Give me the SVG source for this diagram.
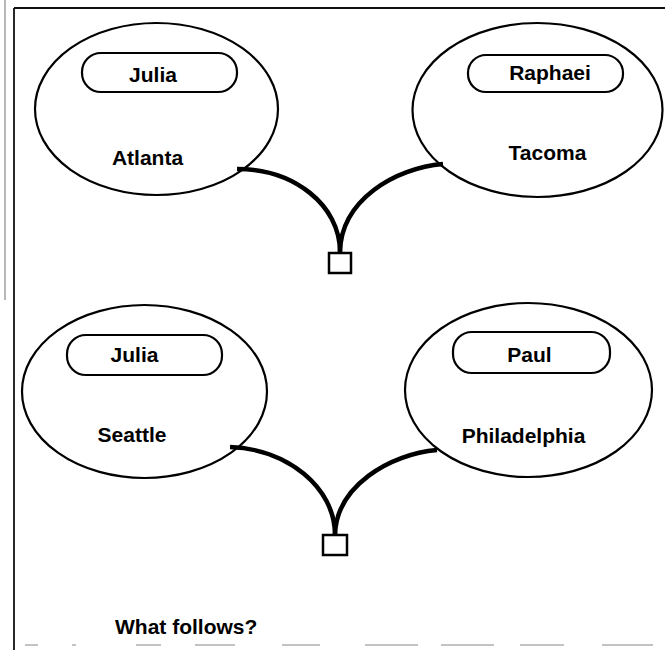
<svg xmlns="http://www.w3.org/2000/svg" width="665" height="650" viewBox="0 0 665 650">
<style>
.frame{stroke:#111;stroke-width:1.8;fill:none}
.scan{stroke:#888;stroke-width:1.2;fill:none}
.ell{fill:none;stroke:#000;stroke-width:2.2}
.pill{fill:#fff;stroke:#000;stroke-width:2.2}
.lbl{font-family:"Liberation Sans",Arial,sans-serif;font-weight:bold;font-size:21px;fill:#000;text-anchor:middle}
.link{fill:none;stroke:#000;stroke-width:4.5;stroke-linecap:butt}
.sq{fill:#fff;stroke:#000;stroke-width:2.5}
</style>
<rect width="665" height="650" fill="#fff"/>
<g id="frame">
<line class="frame" x1="14" y1="8" x2="14" y2="650"/>
<line class="frame" x1="14" y1="8" x2="665" y2="8"/>
<line class="scan" x1="5" y1="0" x2="5" y2="300"/>
<path class="scan" d="M25,645H38M72,645H76M136,645H161M195,645H235M282,645H320M365,645H418M441,645H494M520,645H564M602,645H653"/>
</g>
<g id="connectors">
<path class="link" d="M237,169 C294,169 340,205 340,252"/>
<path class="link" d="M443,164 C395,168 341,200 340,252"/>
<path class="link" d="M230,447 C287,449 335,487 335,535"/>
<path class="link" d="M437,450 C390,454 336,486 335,535"/>
</g>
<g id="node-julia-atlanta">
<ellipse class="ell" cx="156.5" cy="109" rx="121.5" ry="86"/>
<rect class="pill" x="82" y="53" width="155" height="39" rx="19" ry="19"/>
<text class="lbl" x="153" y="82">Julia</text>
<text class="lbl" x="147.5" y="165">Atlanta</text>
</g>
<g id="node-raphael-tacoma">
<ellipse class="ell" cx="537.5" cy="110" rx="125" ry="87"/>
<rect class="pill" x="468" y="55" width="155" height="37" rx="18" ry="18"/>
<text class="lbl" x="550" y="80">Raphaei</text>
<text class="lbl" x="547.5" y="160">Tacoma</text>
</g>
<g id="join-top">
<rect class="sq" x="329" y="253" width="22" height="20"/>
</g>
<g id="node-julia-seattle">
<ellipse class="ell" cx="144.5" cy="391.5" rx="122.5" ry="86.5"/>
<rect class="pill" x="67" y="335" width="155" height="40" rx="19" ry="19"/>
<text class="lbl" x="134.5" y="362">Julia</text>
<text class="lbl" x="132" y="442">Seattle</text>
</g>
<g id="node-paul-philadelphia">
<ellipse class="ell" cx="528.5" cy="390" rx="123.5" ry="87"/>
<rect class="pill" x="453" y="332" width="157" height="41" rx="19" ry="19"/>
<text class="lbl" x="529.5" y="362">Paul</text>
<text class="lbl" x="523.5" y="443">Philadelphia</text>
</g>
<g id="join-bottom">
<rect class="sq" x="323" y="535" width="24" height="20"/>
</g>
<text class="lbl" x="115" y="634" style="text-anchor:start">What follows?</text>
</svg>
